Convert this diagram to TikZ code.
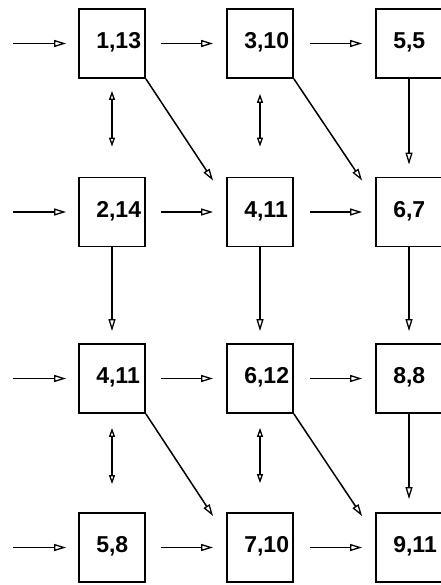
\documentclass[tikz,border=0pt]{standalone}
\usepackage{fontspec}
\setmainfont{Liberation Sans}
\usetikzlibrary{arrows.meta,calc}
\begin{document}
\begin{tikzpicture}[x=1pt,y=-1pt,
 box/.style={draw, line width=1.8pt, minimum width=66pt, minimum height=69pt, inner sep=0pt},
 num/.style={anchor=west, font=\bfseries\fontsize{23}{23}\selectfont, inner sep=0pt},
 arr/.style={line width=1.5pt, -{Triangle[open,length=12pt,width=7pt,line width=1.3pt]}},
 dbl/.style={line width=1.5pt, {Triangle[open,length=9pt,width=6pt,line width=1.3pt]}-{Triangle[open,length=9pt,width=6pt,line width=1.3pt]}}]
\useasboundingbox (0,0) rectangle (440,585);
% boxes
\foreach \c/\x in {1/112,2/260,3/409}{
  \foreach \r/\y in {1/43.5,2/212,3/378.5,4/547.5}{
    \node[box] (b\r\c) at (\x,\y) {};
  }
}
% labels
\node[num] (t11) at ($(b11.west)+(18,-1)$) {1,13};
\node[num] (t12) at ($(b12.west)+(18,-1)$) {3,10};
\node[num] (t13) at ($(b13.west)+(18,-1)$) {5,5};
\node[num] (t21) at ($(b21.west)+(18,-1)$) {2,14};
\node[num] (t22) at ($(b22.west)+(18,-1)$) {4,11};
\node[num] (t23) at ($(b23.west)+(18,-1)$) {6,7};
\node[num] (t31) at ($(b31.west)+(18,-1)$) {4,11};
\node[num] (t32) at ($(b32.west)+(18,-1)$) {6,12};
\node[num] (t33) at ($(b33.west)+(18,-1)$) {8,8};
\node[num] (t41) at ($(b41.west)+(18,-1)$) {5,8};
\node[num] (t42) at ($(b42.west)+(18,-1)$) {7,10};
\node[num] (t43) at ($(b43.west)+(18,-1)$) {9,11};
% incoming arrows
\foreach \r in {1,2,3,4}{
  \coordinate (in\r) at (b\r1.west -| 13,0);
  \draw[arr] (in\r) -- ($(b\r1.west)+(-12,0)$);
  \draw[arr] ($(b\r1.east)+(15,0)$) -- ($(b\r2.west)+(-13,0)$);
  \draw[arr] ($(b\r2.east)+(16,0)$) -- ($(b\r3.west)+(-13,0)$);
}
% vertical arrows
\draw[arr] (b21.south) -- ($(b31.north)+(0,-12)$);
\draw[arr] (b22.south) -- ($(b32.north)+(0,-12)$);
\draw[arr] (b13.south) -- ($(b23.north)+(0,-12)$);
\draw[arr] (b23.south) -- ($(b33.north)+(0,-12)$);
\draw[arr] (b33.south) -- ($(b43.north)+(0,-13)$);
% double arrows
\draw[dbl] ($(b11.south)+(0,12)$) -- ($(b21.north)+(0,-30)$);
\draw[dbl] ($(b12.south)+(0,15)$) -- ($(b22.north)+(0,-30)$);
\draw[dbl] ($(b31.south)+(0,14)$) -- ($(b41.north)+(0,-28)$);
\draw[dbl] ($(b32.south)+(0,14)$) -- ($(b42.north)+(0,-29)$);
% diagonals
\draw[arr] (b11.south east) -- ($(b22.north west)+(-13,4)$);
\draw[arr] (b12.south east) -- ($(b23.north west)+(-13,4)$);
\draw[arr] (b31.south east) -- ($(b42.north west)+(-13,4)$);
\draw[arr] (b32.south east) -- ($(b43.north west)+(-13,4)$);
\end{tikzpicture}
\end{document}
